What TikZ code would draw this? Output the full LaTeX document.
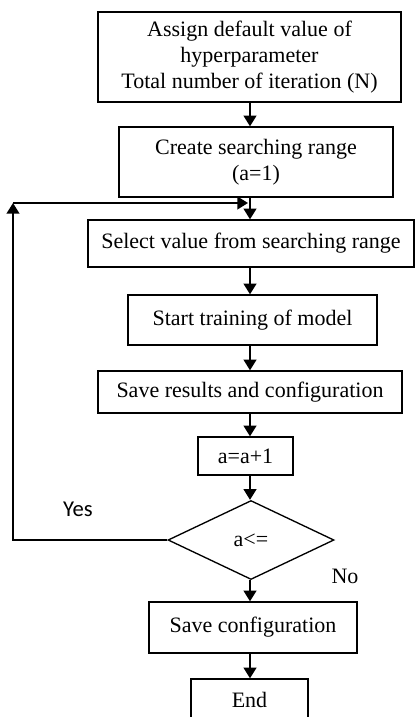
\documentclass[tikz,border=0pt]{standalone}
\usepackage{fontspec}
\setmainfont{Liberation Serif}
\newfontfamily\yesfont{Carlito}
\usetikzlibrary{shapes.geometric,arrows.meta}

\begin{document}
\begin{tikzpicture}[x=0.75pt,y=-0.75pt,
        every node/.style={font=\fontsize{16.5}{19.5}\selectfont},
        box/.style={draw,line width=1pt,inner sep=0pt,align=center},
        arr/.style={line width=1.5pt,-{Triangle[length=8pt,width=9.5pt]}}]
        \useasboundingbox (0,0) rectangle (415,717);
        \clip (0,0) rectangle (415,717);
        \node[box,minimum width=227.25pt,minimum height=67.5pt] (b1) at (249.5,57) {Assign default value of\\hyperparameter\\Total number of iteration (N)};
        \node[box,minimum width=205.5pt,minimum height=52.5pt] (b2) at (256,162) {Create searching range\\(a=1)};
        \node[box,minimum width=244.5pt,minimum height=35.25pt] (b3) at (251,243.5) {Select value from searching range};
        \node[box,minimum width=186.75pt,minimum height=37.5pt] (b4) at (252.5,320) {Start training of model};
        \node[box,minimum width=228pt,minimum height=31.5pt] (b5) at (250,392) {Save results and configuration};
        \node[box,minimum width=71.25pt,minimum height=28.5pt] (b6) at (245.5,456) {a=a+1};
        \node[box,diamond,minimum width=124.5pt,minimum height=59.25pt] (d) at (251,540) {a<=};
        \node[box,minimum width=156pt,minimum height=38.25pt] (b7) at (253,627.5) {Save configuration};
        \node[box,minimum width=87.75pt,minimum height=31.5pt] (b8) at (249.5,700) {End};
        \coordinate (ax) at (250,0);
        \coordinate (lp) at (13,203);
        \foreach \a/\b in {b1/b2,b2/b3,b3/b4,b4/b5,b5/b6,b6/d,d/b7,b7/b8} {
                \draw[arr] (\a.south -| ax) -- (\b.north -| ax);
            }
        % loop back
        \draw[arr] (d.west) -| (lp);
        \draw[arr] (lp) -- ([xshift=-1.5pt]lp -| ax);
        \node[font=\yesfont\fontsize{17}{20}\selectfont] (yes) at (78,509) {Yes};
        \node (no) at (345,576) {No};
    \end{tikzpicture}
\end{document}
